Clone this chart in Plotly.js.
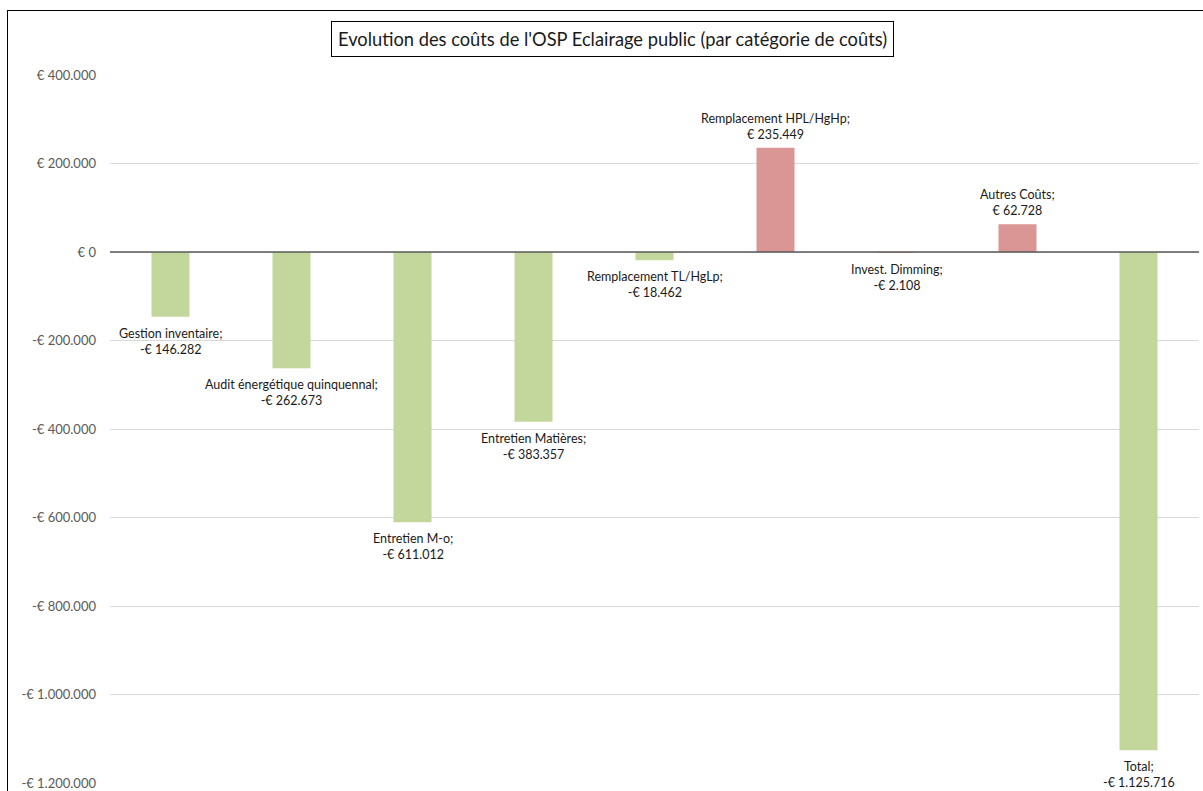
<!DOCTYPE html>
<html>
<head>
<meta charset="utf-8">
<script src="https://cdn.plot.ly/plotly-3.0.1.min.js"></script>
<style>
  html, body { margin: 0; padding: 0; width: 1203px; height: 791px; overflow: hidden; background: #fff; }
  #frame { position: absolute; left: 7px; top: 10px; width: 1400px; height: 1000px; border: 1.5px solid #000; box-sizing: border-box; pointer-events: none; z-index: 2; }
  #chart { position: absolute; left: 0; top: 0; width: 1203px; height: 791px; }
</style>
</head>
<body>
<div id="chart"></div>
<div id="frame"></div>
<script>
// ---- data ----
const categories = [
  "Gestion inventaire",
  "Audit énergétique quinquennal",
  "Entretien M-o",
  "Entretien Matières",
  "Remplacement TL/HgLp",
  "Remplacement HPL/HgHp",
  "Invest. Dimming",
  "Autres Coûts",
  "Total"
];
const values = [-146282, -262673, -611012, -383357, -18462, 235449, -2108, 62728, -1125716];
const barColors = ["#C3D69B", "#C3D69B", "#C3D69B", "#C3D69B", "#C3D69B", "#D99694", "#D99694", "#D99694", "#C3D69B"];
const tickValues = [400000, 200000, 0, -200000, -400000, -600000, -800000, -1000000, -1200000];
const titleText = "Evolution des coûts de l'OSP Eclairage public (par catégorie de coûts)";

function fmtEuro(v) {
  const abs = Math.abs(v).toString().replace(/\B(?=(\d{3})+(?!\d))/g, ".");
  return (v < 0 ? "-€ " : "€ ") + abs;
}
const tickLabels = tickValues.map(fmtEuro);

const FONT = "Lato, 'Open Sans', sans-serif";

const trace = {
  type: "bar",
  x: categories,
  y: values,
  marker: { color: barColors, line: { width: 0 } },
  hoverinfo: "x+y"
};

const annotations = categories.map((c, i) => {
  const v = values[i];
  return {
    x: c, y: v, xref: "x", yref: "y",
    text: c + ";<br>" + fmtEuro(v),
    showarrow: false,
    xanchor: "center",
    yanchor: v < 0 ? "top" : "bottom",
    yshift: v < 0 ? -7 : 4,
    align: "center",
    font: { family: FONT, size: 12.5, color: "#1a1a1a" }
  };
});

annotations.push({
  text: titleText,
  xref: "paper", yref: "paper",
  x: 0.461, y: 1.0, yshift: 36,
  xanchor: "center", yanchor: "middle",
  showarrow: false,
  bordercolor: "#000", borderwidth: 1, borderpad: 6,
  bgcolor: "#fff",
  font: { family: FONT, size: 18.3, color: "#1a1a1a" }
});

const layout = {
  width: 1203, height: 791,
  margin: { l: 110, r: 4, t: 75, b: 8, pad: 0 },
  paper_bgcolor: "#fff", plot_bgcolor: "#fff",
  showlegend: false,
  bargap: 0.686,
  font: { family: FONT },
  xaxis: {
    type: "category",
    showticklabels: false,
    showgrid: false,
    zeroline: false,
    showline: false,
    ticks: ""
  },
  yaxis: {
    range: [-1200000, 400000],
    tickvals: tickValues,
    ticktext: tickLabels,
    tickfont: { family: FONT, size: 13, color: "#595959" },
    showgrid: true,
    gridcolor: "#d9d9d9",
    gridwidth: 1,
    zeroline: false,
    showline: false,
    ticks: "",
    ticklabelstandoff: 13
  },
  shapes: [{
    type: "line", xref: "paper", yref: "y",
    x0: 0, x1: 1, y0: 0, y1: 0,
    line: { color: "#595959", width: 1.5 },
    layer: "above"
  }],
  annotations: annotations
};

Plotly.newPlot("chart", [trace], layout, { displayModeBar: false, staticPlot: true });
</script>
</body>
</html>
